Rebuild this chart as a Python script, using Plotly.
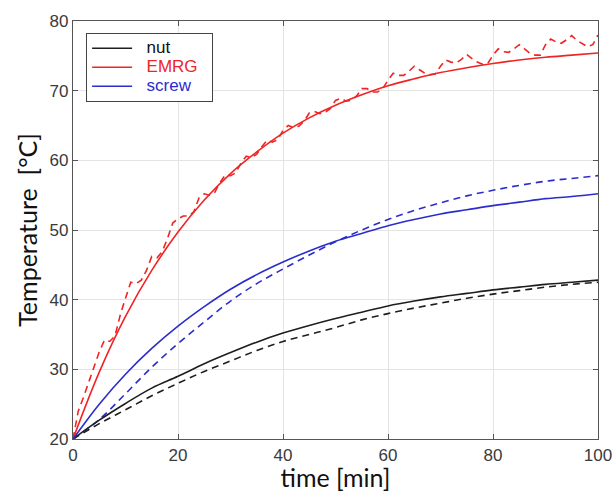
import plotly.graph_objects as go

# ---- data ----
t5 = [0, 5, 10, 15, 20, 25, 30, 35, 40, 45, 50, 55, 60, 65, 70, 75, 80, 85, 90, 95, 100]

nut_fit = [20, 22.7, 25.1, 27.3, 29.0, 30.8, 32.4, 33.9, 35.2, 36.3, 37.3, 38.2, 39.1, 39.8,
           40.4, 40.9, 41.4, 41.8, 42.2, 42.5, 42.8]
nut_meas = [20, 22.2, 24.2, 26.2, 28.0, 29.7, 31.2, 32.7, 34.0, 35.0, 36.0, 37.1, 38.0, 38.8,
            39.5, 40.2, 40.8, 41.3, 41.8, 42.2, 42.5]

screw_fit = [20, 25.0, 29.3, 33.0, 36.2, 39.0, 41.5, 43.6, 45.4, 47.0, 48.4, 49.5, 50.6, 51.5,
             52.3, 52.9, 53.5, 54.0, 54.5, 54.8, 55.2]
screw_meas = [20, 22.8, 26.5, 30.3, 33.7, 36.8, 39.8, 42.3, 44.4, 46.4, 48.3, 50.0, 51.5, 52.8,
              53.9, 54.9, 55.7, 56.4, 57.0, 57.4, 57.8]

emrg_fit = [20, 29.6, 37.6, 44.2, 49.7, 54.3, 58.1, 61.2, 63.9, 66.1, 67.9, 69.4, 70.7, 71.7,
            72.6, 73.3, 73.9, 74.4, 74.8, 75.1, 75.4]

t1 = list(range(0, 101))
emrg_meas = [20.0, 24.0, 26.0, 28.2, 30.5, 32.5, 34.2, 34.0, 34.8, 37.8,
             40.2, 42.5, 42.3, 42.8, 44.2, 46.2, 46.0, 46.9, 48.8, 51.0,
             51.6, 52.0, 52.0, 52.6, 54.6, 55.2, 55.0, 55.4, 56.8, 57.9,
             57.8, 58.2, 59.6, 60.6, 60.4, 60.9, 62.0, 62.9, 62.6, 63.0,
             64.3, 65.0, 64.7, 64.9, 65.6, 66.8, 67.0, 66.7, 66.9, 67.4,
             68.6, 68.9, 68.5, 68.6, 69.2, 70.3, 70.3, 69.8, 69.8, 70.3,
             71.5, 72.5, 72.2, 72.2, 72.8, 73.5, 73.0, 72.5, 72.3, 72.4,
             73.5, 74.4, 74.1, 74.0, 74.5, 75.2, 74.6, 74.1, 73.8, 73.9,
             75.1, 76.0, 75.6, 75.5, 76.0, 76.6, 76.0, 75.4, 75.1, 75.1,
             76.6, 77.4, 77.0, 76.8, 77.3, 77.9, 77.2, 76.7, 76.3, 76.6,
             78.0]

x_ticks = [0, 20, 40, 60, 80, 100]
y_ticks = [20, 30, 40, 50, 60, 70, 80]

BLACK = "#1e1e1e"
RED = "#f02424"
BLUE = "#2c2ccc"
DASH = "7px,5px"


def lname(text, color):
    return f"<span style='color:{color};font-size:17px'>&nbsp;&nbsp;{text}&nbsp;&nbsp;</span>"


fig = go.Figure()
fig.add_trace(go.Scatter(x=t5, y=nut_meas, mode="lines", line=dict(color=BLACK, width=1.6, dash=DASH, shape="spline"), showlegend=False))
fig.add_trace(go.Scatter(x=t5, y=screw_meas, mode="lines", line=dict(color=BLUE, width=1.6, dash=DASH, shape="spline"), showlegend=False))
fig.add_trace(go.Scatter(x=t1, y=emrg_meas, mode="lines", line=dict(color=RED, width=1.6, dash=DASH), showlegend=False))
fig.add_trace(go.Scatter(x=t5, y=nut_fit, mode="lines", name=lname("nut", "#111111"), line=dict(color=BLACK, width=1.6, shape="spline")))
fig.add_trace(go.Scatter(x=t5, y=emrg_fit, mode="lines", name=lname("EMRG", RED), line=dict(color=RED, width=1.6, shape="spline")))
fig.add_trace(go.Scatter(x=t5, y=screw_fit, mode="lines", name=lname("screw", BLUE), line=dict(color=BLUE, width=1.6, shape="spline")))

axis_common = dict(
    showgrid=True, gridcolor="#e4e4e4", gridwidth=1,
    showline=True, linecolor="#555555", linewidth=1.2, mirror="ticks",
    ticks="inside", ticklen=5, tickcolor="#555555",
    tickfont=dict(family="Liberation Sans, Arial", size=17, color="#3a3a3a"),
    zeroline=False, automargin=False,
)

fig.update_layout(
    width=613, height=492,
    margin=dict(l=73, r=15, t=21, b=53),
    paper_bgcolor="white", plot_bgcolor="white",
    xaxis=dict(range=[0, 100], tickvals=x_ticks, ticktext=[str(v) for v in x_ticks],
               title=dict(text="time [min]", font=dict(family="Lato", size=25, color="#111111"), standoff=4),
               **axis_common),
    yaxis=dict(range=[20, 80], tickvals=y_ticks, ticktext=[str(v) for v in y_ticks],
               title=dict(text="Temperature  [°C]", font=dict(family="Lato", size=25, color="#111111"), standoff=4),
               **axis_common),
    legend=dict(x=0.025, y=0.972, xanchor="left", yanchor="top",
                bgcolor="white", bordercolor="#444444", borderwidth=1,
                font=dict(family="Liberation Sans, Arial", size=12, color="#111111"),
                itemwidth=40, tracegroupgap=0),
    showlegend=True,
)

fig.write_html("out.html")
